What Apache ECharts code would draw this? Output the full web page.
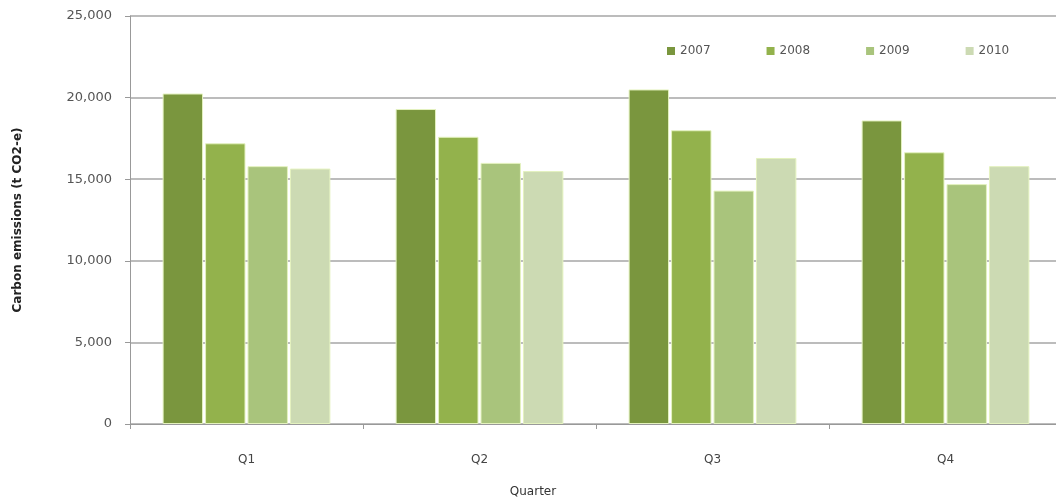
<!DOCTYPE html>
<html>
<head>
<meta charset="utf-8">
<script src="https://cdn.jsdelivr.net/npm/echarts@6/dist/echarts.min.js"></script>
<style>
    html, body { margin: 0; padding: 0; background: #fff; }
    #chart { width: 1056px; height: 502px; }
</style>
</head>
<body>
<div id="chart"></div>
<script>
    // quarters on the x axis
    const quarters = ['Q1', 'Q2', 'Q3', 'Q4'];
    const years = ['2007', '2008', '2009', '2010'];

    // carbon emissions (t CO2-e)
    const y2007 = [20250, 19300, 20500, 18600];
    const y2008 = [17200, 17600, 18000, 16650];
    const y2009 = [15800, 16000, 14300, 14700];
    const y2010 = [15650, 15500, 16300, 15800];

    const colors = ['#7a963e', '#93b24c', '#a9c47c', '#ccdab3'];

    let myChart = echarts.init(document.getElementById('chart'));

    const makeSeries = (name, data, i) => ({
        name: name,
        type: 'bar',
        data: data,
        barGap: '5%',
        barCategoryGap: '28%',
        itemStyle: {
            color: colors[i],
            borderColor: '#e4f2bf',
            borderWidth: 1
        }
    });

    let option = {
        animation: false,
        textStyle: { fontFamily: 'DejaVu Sans' },
        legend: {
            data: years,
            top: 40,
            left: 662,
            itemWidth: 8,
            itemHeight: 8,
            itemGap: 56,
            icon: 'rect',
            itemStyle: { borderWidth: 0 },
            textStyle: { color: '#555', fontSize: 12 }
        },
        grid: {
            left: 130,
            right: -6,
            top: 16,
            bottom: 78,
            outerBoundsMode: 'none'
        },
        xAxis: {
            type: 'category',
            data: quarters,
            name: 'Quarter',
            nameLocation: 'middle',
            nameGap: 62,
            nameTextStyle: {
                color: '#333',
                fontSize: 12,
                padding: [0, 126, 0, 0]
            },
            axisLine: { lineStyle: { color: '#999', width: 1 } },
            axisTick: { show: true, length: 5, lineStyle: { color: '#999' } },
            axisLabel: { color: '#444', fontSize: 12, margin: 30 }
        },
        yAxis: {
            type: 'value',
            min: 0,
            max: 25000,
            interval: 5000,
            name: 'Carbon emissions (t CO2-e)',
            nameLocation: 'middle',
            nameGap: 106,
            nameTextStyle: { color: '#222', fontSize: 12, fontWeight: 'bold' },
            axisLine: { show: true, lineStyle: { color: '#999', width: 1 } },
            axisTick: { show: true, length: 5, lineStyle: { color: '#999' } },
            axisLabel: {
                color: '#555',
                fontSize: 13,
                margin: 18,
                formatter: function (v) {
                    return v.toLocaleString('en-US');
                }
            },
            splitLine: { lineStyle: { color: '#a6a6a6', width: 1.5 } }
        },
        series: [
            makeSeries(years[0], y2007, 0),
            makeSeries(years[1], y2008, 1),
            makeSeries(years[2], y2009, 2),
            makeSeries(years[3], y2010, 3)
        ]
    };

    myChart.setOption(option, true);
</script>
</body>
</html>
